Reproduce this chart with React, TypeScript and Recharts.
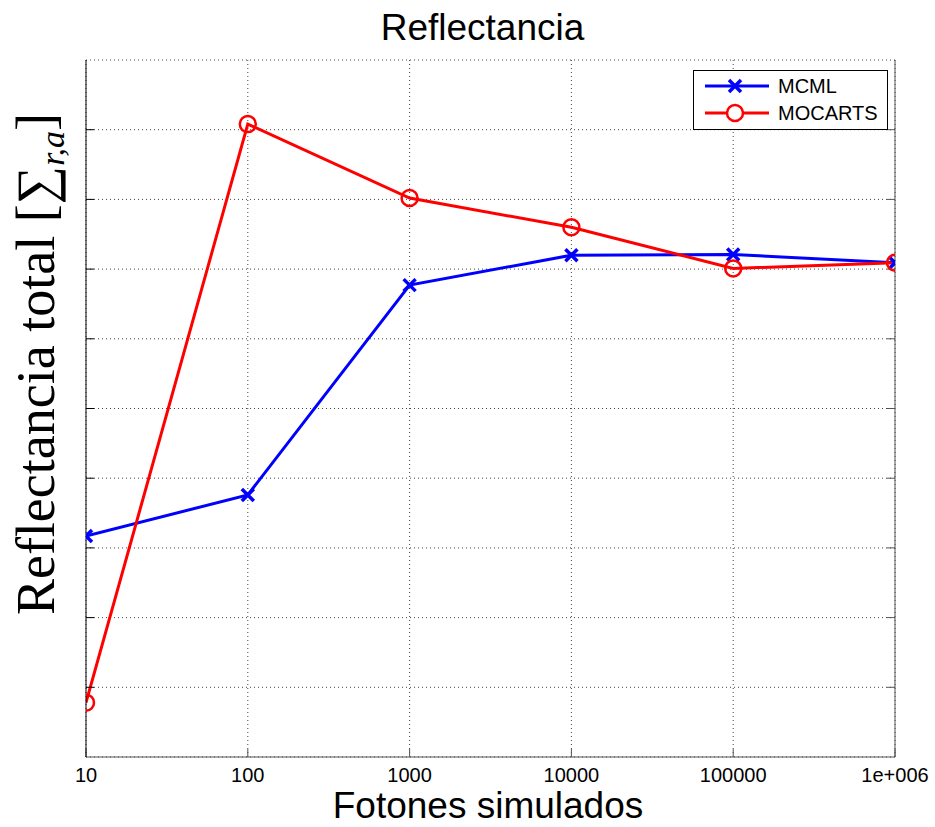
import React from 'react';
import { LineChart, Line, XAxis, YAxis, CartesianGrid } from 'recharts';

const photons = [10, 100, 1000, 10000, 100000, 1000000];
const xTickLabels = ['10', '100', '1000', '10000', '100000', '1e+006'];
const mcml = [3.17, 3.76, 6.77, 7.2, 7.21, 7.09];
const mocarts = [0.78, 9.08, 8.02, 7.6, 7.01, 7.09];
const yTicks = [1, 2, 3, 4, 5, 6, 7, 8, 9];
const seriesNames = ['MCML', 'MOCARTS'];
const seriesColors = ['#0000ff', '#ff0000'];

const data = photons.map((p, i) => ({ photons: p, MCML: mcml[i], MOCARTS: mocarts[i] }));

const CrossDot = (props: any) => {
  const { cx, cy, index } = props;
  if (cx == null || cy == null) return null;
  const s = 6;
  return (
    <path
      key={`x-${index}`}
      d={`M${cx - s},${cy - s}L${cx + s},${cy + s}M${cx - s},${cy + s}L${cx + s},${cy - s}`}
      stroke={seriesColors[0]}
      strokeWidth={3.5}
      fill="none"
    />
  );
};

const CircleDot = (props: any) => {
  const { cx, cy, index } = props;
  if (cx == null || cy == null) return null;
  return <circle key={`o-${index}`} cx={cx} cy={cy} r={8} stroke={seriesColors[1]} strokeWidth={2.5} fill="none" />;
};

const LegendBox = () => (
  <svg width={196} height={61} style={{ display: 'block' }}>
    <rect x={0.5} y={0.5} width={194} height={59} fill="#fff" stroke="#000" strokeWidth={1} />
    {seriesNames.map((n, i) => {
      const y = 16 + i * 27;
      return (
        <g key={n}>
          <line x1={12} x2={76} y1={y} y2={y} stroke={seriesColors[i]} strokeWidth={3} />
          {i === 0 ? (
            <path d={`M${42 - 6},${y - 6}L${42 + 6},${y + 6}M${42 - 6},${y + 6}L${42 + 6},${y - 6}`} stroke={seriesColors[0]} strokeWidth={3.5} />
          ) : (
            <circle cx={42} cy={y} r={8} stroke={seriesColors[1]} strokeWidth={2.5} fill="#fff" />
          )}
          <text x={85} y={y + 7} fontSize={20} fontFamily="Liberation Sans, Arial, sans-serif" fill="#000">
            {n}
          </text>
        </g>
      );
    })}
  </svg>
);

const YLabel = () => (
  <text
    x={54}
    y={364}
    transform="rotate(-90, 54, 364)"
    textAnchor="middle"
    fontFamily="Liberation Serif, 'DejaVu Serif', serif"
    fontSize={54}
    fill="#000"
  >
    Reflectancia total [∑
    <tspan fontSize={34} fontStyle="italic" dy={10}>r,a</tspan>
    <tspan dy={-10}>]</tspan>
  </text>
);

const XLabel = () => (
  <text x={488} y={818} textAnchor="middle" fontFamily="Liberation Sans, Arial, sans-serif" fontSize={37} fill="#000">
    Fotones simulados
  </text>
);

export default function App() {
  return (
    <div style={{ position: 'absolute', left: 0, top: 0, width: 935, height: 827, background: '#fff' }}>
      <div
        style={{
          position: 'absolute',
          left: 0,
          width: 965,
          top: 6,
          textAlign: 'center',
          fontFamily: 'Liberation Sans, Arial, sans-serif',
          fontSize: 37,
          lineHeight: '44px',
          color: '#000',
          zIndex: 2,
          pointerEvents: 'none',
        }}
      >
        Reflectancia
      </div>
      <div style={{ position: 'absolute', left: 693, top: 70, zIndex: 2 }}>
        <LegendBox />
      </div>
      <LineChart width={935} height={827} data={data} margin={{ top: 60, right: 0, bottom: 0, left: 0 }}>
        <CartesianGrid stroke="#444" strokeDasharray="1 3" strokeWidth={1} />
        <XAxis
          dataKey="photons"
          type="number"
          scale="log"
          domain={[10, 1000000]}
          ticks={photons}
          allowDataOverflow
          height={70}
          stroke="#555"
          tickSize={-8}
          tickMargin={19}
          tick={{ fill: '#000', fontSize: 20, fontFamily: 'Liberation Sans, Arial, sans-serif' }}
          tickFormatter={(v: number) => xTickLabels[photons.indexOf(v)] ?? String(v)}
          label={{ content: () => <XLabel /> }}
        />
        <XAxis
          xAxisId="top"
          orientation="top"
          type="number"
          scale="log"
          domain={[10, 1000000]}
          ticks={photons}
          allowDataOverflow
          height={0}
          stroke="#555"
          tickSize={-8}
          tickFormatter={() => ''}
        />
        <YAxis
          type="number"
          domain={[0, 10]}
          ticks={yTicks}
          allowDataOverflow
          width={86}
          stroke="#000"
          tickSize={-8}
          tickFormatter={() => ''}
          label={{ content: () => <YLabel /> }}
        />
        <YAxis
          yAxisId="right"
          orientation="right"
          type="number"
          domain={[0, 10]}
          ticks={yTicks}
          allowDataOverflow
          width={40}
          stroke="#555"
          tickSize={-8}
          tickFormatter={() => ''}
        />
        <Line
          type="linear"
          dataKey="MCML"
          name={seriesNames[0]}
          stroke={seriesColors[0]}
          strokeWidth={3}
          dot={CrossDot}
          activeDot={false}
          isAnimationActive={false}
        />
        <Line
          type="linear"
          dataKey="MOCARTS"
          name={seriesNames[1]}
          stroke={seriesColors[1]}
          strokeWidth={3}
          dot={CircleDot}
          activeDot={false}
          isAnimationActive={false}
        />
      </LineChart>
    </div>
  );
}
